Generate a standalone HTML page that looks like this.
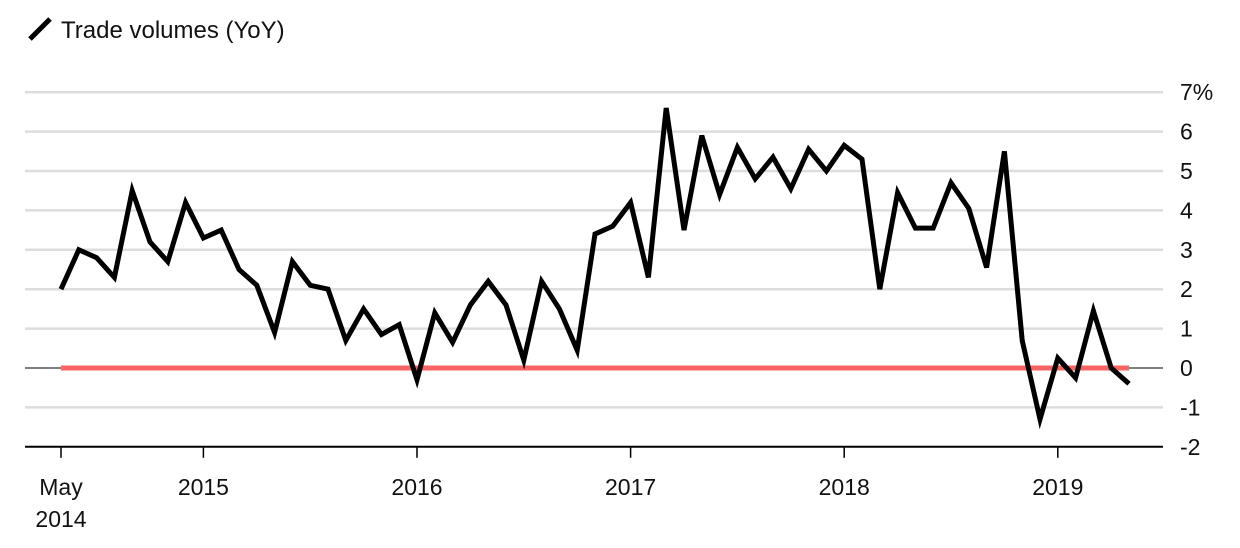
<!DOCTYPE html>
<html><head><meta charset="utf-8"><style>
body{margin:0;background:#fff;font-family:"Liberation Sans",Arial,sans-serif;}
svg text{font-family:"Liberation Sans",Arial,sans-serif;fill:#111;}
</style></head><body>
<svg width="1240" height="543">
<g>
<line x1="30" y1="39" x2="50" y2="19" stroke="#000" stroke-width="5" stroke-linecap="butt"/>
<text x="61" y="38" font-size="24">Trade volumes (YoY)</text>
</g>
<g id="grid"></g><g id="xaxis"></g>
<line id="ref" stroke="#f86464" stroke-width="5"/>
<path id="line" fill="none" stroke="#000" stroke-width="5" stroke-linejoin="miter"/>
</svg>
<script>
const yTicks=[7,6,5,4,3,2,1,0,-1,-2];
const yTickLabels=["7%","6","5","4","3","2","1","0","-1","-2"];
const xTickMonths=[0,8,20,32,44,56];
const xTickLabels=[["May","2014"],["2015"],["2016"],["2017"],["2018"],["2019"]];
const values=[2.0,3.0,2.8,2.3,4.5,3.2,2.7,4.2,3.3,3.5,2.5,2.1,0.9,2.7,2.1,2.0,0.7,1.5,0.85,1.1,-0.3,1.4,0.65,1.6,2.2,1.6,0.2,2.2,1.5,0.45,3.4,3.6,4.2,2.3,6.6,3.5,5.9,4.4,5.6,4.8,5.35,4.55,5.55,5.0,5.65,5.3,2.0,4.45,3.55,3.55,4.7,4.05,2.55,5.5,0.7,-1.3,0.25,-0.25,1.45,0.0,-0.4];
const NS="http://www.w3.org/2000/svg";
const y=v=>368-v*39.4;
const x=i=>61+i*17.8;
const grid=document.getElementById('grid');
yTicks.forEach((t,k)=>{
  if(t!==-2){
  const l=document.createElementNS(NS,'line');
  
  
  l.setAttribute('x1',25);l.setAttribute('x2',1163);l.setAttribute('y1',y(t));l.setAttribute('y2',y(t));
  l.setAttribute('stroke',t===0?'#555':'#ddd');l.setAttribute('stroke-width',t===0?1.5:2.5);
  grid.appendChild(l);}
  const tx=document.createElementNS(NS,'text');
  
  
  tx.setAttribute('x',1180);tx.setAttribute('y',y(t)+8);tx.setAttribute('font-size','23');
  tx.textContent=yTickLabels[k];grid.appendChild(tx);
});
const xa=document.getElementById('xaxis');
const ax=document.createElementNS(NS,'line');


ax.setAttribute('x1',25);ax.setAttribute('x2',1163);ax.setAttribute('y1',y(-2));ax.setAttribute('y2',y(-2));
ax.setAttribute('stroke','#000');ax.setAttribute('stroke-width',2);xa.appendChild(ax);
xTickMonths.forEach((m,k)=>{
  const t=document.createElementNS(NS,'line');
  
  
  t.setAttribute('x1',x(m));t.setAttribute('x2',x(m));t.setAttribute('y1',y(-2));t.setAttribute('y2',y(-2)+11);
  t.setAttribute('stroke','#000');t.setAttribute('stroke-width',1.5);xa.appendChild(t);
  xTickLabels[k].forEach((s,j)=>{
    const tx=document.createElementNS(NS,'text');
    
    
    tx.setAttribute('x',x(m));tx.setAttribute('y',495+j*32);tx.setAttribute('font-size','23');tx.setAttribute('text-anchor','middle');
    tx.textContent=s;xa.appendChild(tx);
  });
});
const r=document.getElementById('ref');
r.setAttribute('x1',x(0));r.setAttribute('x2',x(values.length-1));r.setAttribute('y1',y(0));r.setAttribute('y2',y(0));
document.getElementById('line').setAttribute('d',values.map((v,i)=>(i?'L':'M')+x(i)+' '+y(v)).join(' '));
</script>
</body></html>
